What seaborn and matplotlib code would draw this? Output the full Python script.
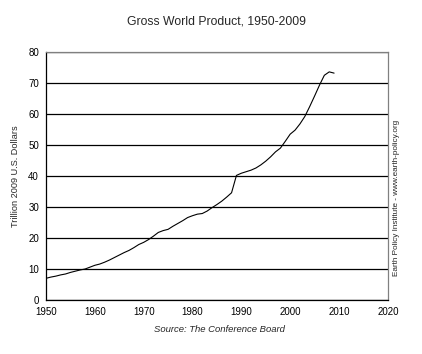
import numpy as np
import pandas as pd
import matplotlib
matplotlib.use("Agg")
import matplotlib.pyplot as plt
import seaborn as sns

# Gross world product, trillion 2009 US dollars
years = list(range(1950, 2010))
gwp = [7.0, 7.4, 7.7, 8.1, 8.4, 8.9, 9.3, 9.7, 10.0, 10.6,
       11.2, 11.6, 12.2, 12.9, 13.7, 14.5, 15.3, 16.0, 16.9, 17.9,
       18.6, 19.5, 20.6, 21.8, 22.4, 22.8, 23.8, 24.7, 25.6, 26.6,
       27.2, 27.7, 27.9, 28.7, 29.8, 30.8, 31.9, 33.2, 34.6, 40.2,
       40.9, 41.4, 41.9, 42.6, 43.6, 44.8, 46.2, 47.8, 49.0, 51.2,
       53.5, 54.8, 56.8, 59.2, 62.4, 65.8, 69.3, 72.5, 73.6, 73.2]
xticks = list(range(1950, 2021, 10))
yticks = list(range(0, 81, 10))

df = pd.DataFrame({"year": years, "gwp": gwp})

sns.set_style("white")
plt.rcParams["font.family"] = ["Liberation Sans", "DejaVu Sans"]

fig = plt.figure(figsize=(4.22, 3.54), dpi=100)
ax = fig.add_axes([0.109, 0.1525, 0.81, 0.7005])

sns.lineplot(data=df, x="year", y="gwp", color="black", linewidth=0.8, ax=ax)

ax.set_xlim(1950, 2020)
ax.set_ylim(0, 80)
ax.set_xticks(xticks)
ax.set_yticks(yticks)
ax.tick_params(labelsize=7, length=3, width=0.8, direction="out", colors="black", pad=2)
ax.yaxis.grid(True, color="black", linewidth=0.9)
ax.xaxis.grid(False)
ax.set_axisbelow(True)

for s in ["left", "bottom"]:
    ax.spines[s].set_color("black")
    ax.spines[s].set_linewidth(0.9)
for s in ["top", "right"]:
    ax.spines[s].set_color("#808080")
    ax.spines[s].set_linewidth(0.9)

ax.set_xlabel("")
ax.set_ylabel("Trillion 2009 U.S. Dollars", fontsize=6.6, labelpad=6)
ax.set_title("Gross World Product, 1950-2009", fontsize=8.8, pad=20)

fig.text(0.521, 0.07, "Source: The Conference Board", fontsize=6.8, style="italic",
         ha="center", va="center")
fig.text(0.94, 0.44, "Earth Policy Institute - www.earth-policy.org", fontsize=5.9,
         rotation=90, ha="center", va="center")

fig.savefig("out.png", dpi=100)
